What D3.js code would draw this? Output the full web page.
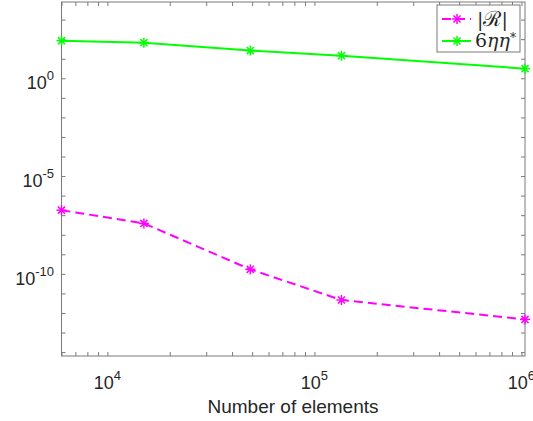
<!DOCTYPE html>
<html>
<head>
<meta charset="utf-8" />
<script src="https://d3js.org/d3.v7.min.js"></script>
<style>
  body { margin: 0; background: #fff; }
  text { font-family: "Liberation Sans", Arial, sans-serif; fill: #262626; }
  .leg { font-family: "DejaVu Serif", "Liberation Serif", serif; }
</style>
</head>
<body>
<div id="chart"></div>
<script>
// data
const elements = [6000, 15000, 49000, 135000, 1040000];
const residual = [1.8e-7, 3.8e-8, 1.7e-10, 4.6e-12, 4.7e-13];
const estimator = [84, 66, 26, 14.3, 3.1];
const xTickExps = [4, 5, 6];
const yTickExps = [0, -5, -10];
const yExtent = [-14.2, 3.9];

const W = 533, H = 421;
const plot = { left: 61.5, right: 525, top: 2, bottom: 356 };

const svg = d3.select("#chart").append("svg")
    .attr("width", W).attr("height", H);

const x = d3.scaleLog().domain(d3.extent(elements)).range([plot.left, plot.right]);
const y = d3.scaleLog().domain(yExtent.map(e => 10 ** e)).range([plot.bottom, plot.top]);

const axisColor = "#7a7a7a";
const xMinor = x.ticks();
const yMinor = d3.range(Math.ceil(yExtent[0]), Math.floor(yExtent[1]) + 1).map(e => 10 ** e);

// ticks pointing inward on all four sides
function styleAxis(g) {
    g.select(".domain").remove();
    g.selectAll(".tick line").attr("stroke", axisColor);
}
svg.append("g").attr("transform", `translate(0,${plot.bottom})`)
    .call(d3.axisBottom(x).tickValues(xMinor).tickSize(-4).tickFormat(""))
    .call(styleAxis);
svg.append("g").attr("transform", `translate(0,${plot.top})`)
    .call(d3.axisTop(x).tickValues(xMinor).tickSize(-4).tickFormat(""))
    .call(styleAxis);
svg.append("g").attr("transform", `translate(${plot.left},0)`)
    .call(d3.axisLeft(y).tickValues(yMinor).tickSize(-4).tickFormat(""))
    .call(styleAxis);
svg.append("g").attr("transform", `translate(${plot.right},0)`)
    .call(d3.axisRight(y).tickValues(yMinor).tickSize(-4).tickFormat(""))
    .call(styleAxis);

svg.append("rect")
    .attr("x", plot.left).attr("y", plot.top)
    .attr("width", plot.right - plot.left).attr("height", plot.bottom - plot.top)
    .attr("fill", "none").attr("stroke", axisColor).attr("stroke-width", 1);

// tick labels with superscript exponents
xTickExps.forEach(e => {
    const t = svg.append("text")
        .attr("x", x(10 ** e)).attr("y", 389)
        .attr("text-anchor", "middle")
        .style("font-size", "18px");
    t.append("tspan").text("10");
    t.append("tspan").attr("dy", -9).style("font-size", "13px").text(e);
});
yTickExps.forEach(e => {
    const t = svg.append("text")
        .attr("x", 54).attr("y", y(10 ** e) + 11)
        .attr("text-anchor", "end")
        .style("font-size", "18px");
    t.append("tspan").text("10");
    t.append("tspan").attr("dy", -9).style("font-size", "13px").text(e);
});

svg.append("text")
    .attr("x", 293).attr("y", 413)
    .attr("text-anchor", "middle")
    .style("font-size", "19px")
    .text("Number of elements");

// series
const series = [
    { values: residual, color: "#ff00ff", dash: "9,5" },
    { values: estimator, color: "#00ff00", dash: null }
];

const line = d3.line().x(d => x(d[0])).y(d => y(d[1]));

function star(g, cx, cy, color) {
    const r = 5;
    [0, 45, 90, 135].forEach(a => {
        const dx = r * Math.cos(a * Math.PI / 180), dy = r * Math.sin(a * Math.PI / 180);
        g.append("line")
            .attr("x1", cx - dx).attr("y1", cy - dy)
            .attr("x2", cx + dx).attr("y2", cy + dy)
            .attr("stroke", color).attr("stroke-width", 1.5);
    });
}

series.forEach(s => {
    const pts = elements.map((e, i) => [e, s.values[i]]);
    svg.append("path")
        .attr("d", line(pts))
        .attr("fill", "none")
        .attr("stroke", s.color)
        .attr("stroke-width", 2)
        .attr("stroke-dasharray", s.dash);
    const g = svg.append("g");
    pts.forEach(p => star(g, x(p[0]), y(p[1]), s.color));
});

// legend
const leg = svg.append("g");
leg.append("rect")
    .attr("x", 437).attr("y", 5).attr("width", 83).attr("height", 47)
    .attr("fill", "#fff").attr("stroke", axisColor);
[
    { color: "#ff00ff", dash: "9,5", yy: 19 },
    { color: "#00ff00", dash: null, yy: 41 }
].forEach(r => {
    leg.append("line")
        .attr("x1", 442).attr("x2", 471).attr("y1", r.yy).attr("y2", r.yy)
        .attr("stroke", r.color).attr("stroke-width", 2)
        .attr("stroke-dasharray", r.dash);
    star(leg, 457, r.yy, r.color);
});
const t1 = leg.append("text").attr("class", "leg")
    .attr("x", 477).attr("y", 26).style("font-size", "19px");
t1.append("tspan").text("|");
t1.append("tspan").style("font-size", "21px").text("\u211B");
t1.append("tspan").text("|");
const t2 = leg.append("text").attr("class", "leg")
    .attr("x", 475).attr("y", 47).style("font-size", "19px");
t2.append("tspan").text("6");
t2.append("tspan").style("font-style", "italic").text("\u03B7\u03B7");
t2.append("tspan").attr("dy", -5).style("font-size", "12px").text("*");
</script>
</body>
</html>
